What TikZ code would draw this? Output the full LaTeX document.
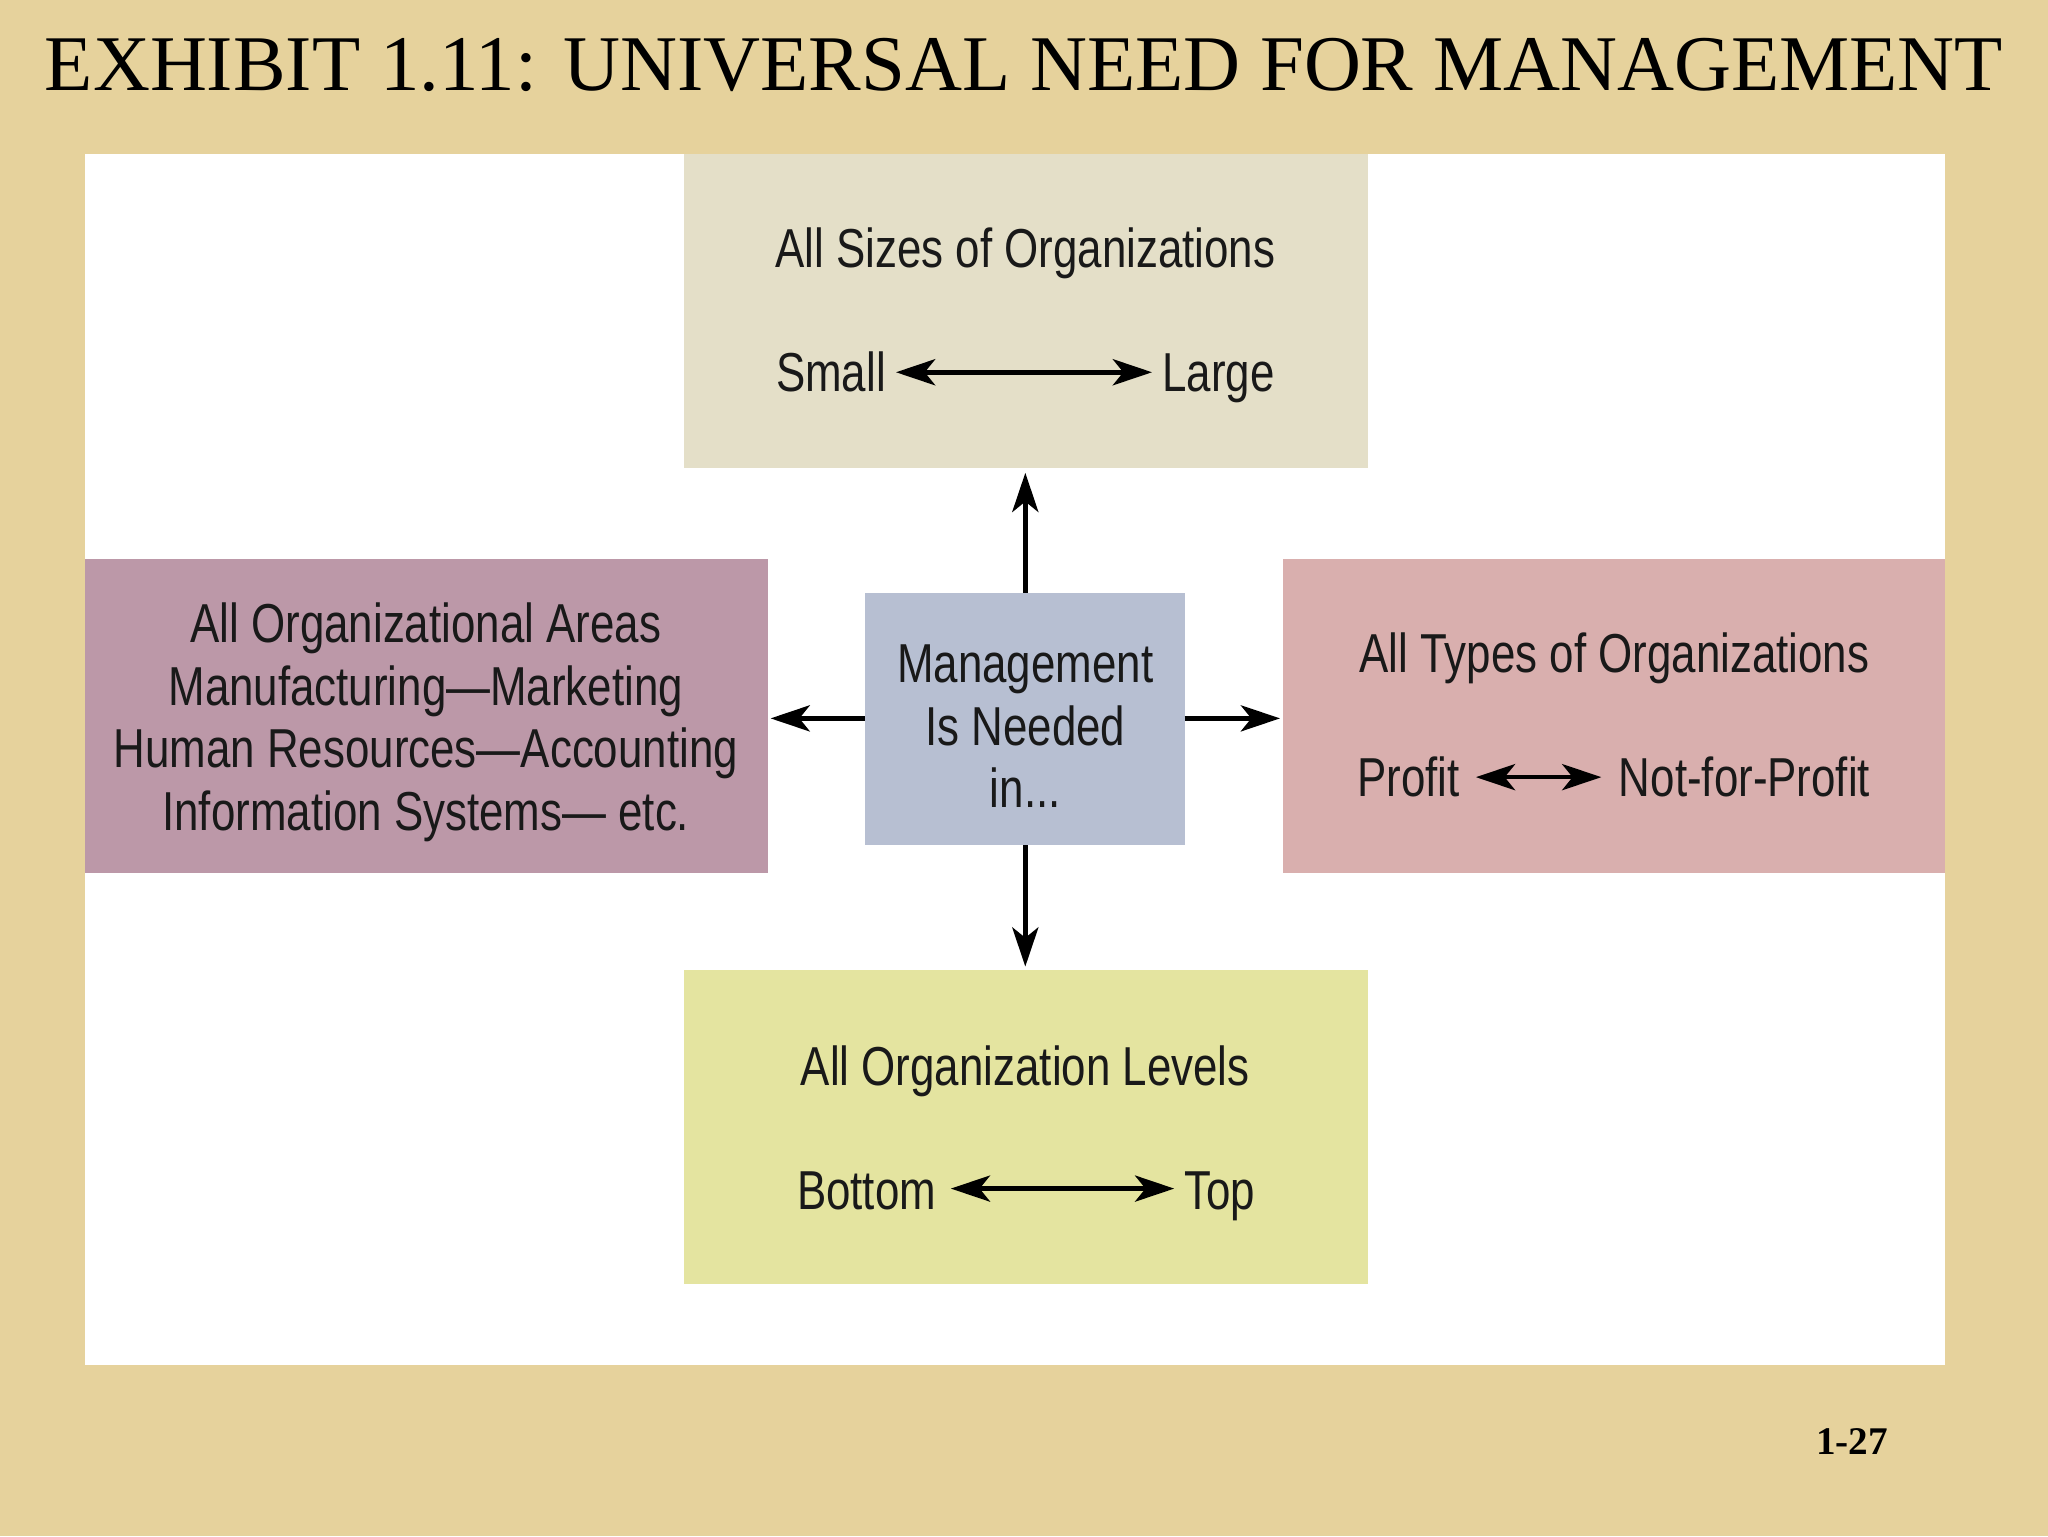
\documentclass[tikz,border=0pt]{standalone}
\usepackage{fontspec}
\setmainfont{Liberation Serif}
\newfontfamily\cond{Liberation Sans}
\usetikzlibrary{arrows.meta}
\definecolor{bgtan}{HTML}{E6D29C}
\definecolor{topc}{HTML}{E4DFC8}
\definecolor{leftc}{HTML}{BC98A8}
\definecolor{midc}{HTML}{B7BFD2}
\definecolor{rightc}{HTML}{D9AFAE}
\definecolor{botc}{HTML}{E4E4A0}
\newcommand{\cz}[1]{\scalebox{0.8}[1]{#1}}
\tikzset{
  txt/.style={font=\cond\fontsize{42}{48}\selectfont, text=black!90, inner sep=0pt},
  arr/.style={-{Stealth[length=30pt,width=20pt,inset=8pt]}, line width=3.5pt},
  darr/.style={{Stealth[length=30pt,width=20pt,inset=8pt]}-{Stealth[length=30pt,width=20pt,inset=8pt]}, line width=3.5pt},
}
\begin{document}
\begin{tikzpicture}[x=1pt,y=-1pt]
\fill[bgtan] (0,0) rectangle (1568,1176);
\useasboundingbox (0,0) rectangle (1568,1176);
\fill[white] (65,118) rectangle (1489,1045);
\node[font=\fontsize{60.4}{70}\selectfont, inner sep=0pt] (title) at (784,50) {EXHIBIT 1.11: UNIVERSAL NEED FOR MANAGEMENT};
\node[font=\bfseries\fontsize{30}{34}\selectfont, inner sep=0pt] (pg) at (1418,1104) {1-27};
% boxes
\fill[topc] (524,118) rectangle (1047,358);
\fill[leftc] (65,428) rectangle (588,668);
\fill[midc] (662,454) rectangle (907,647);
\fill[rightc] (982,428) rectangle (1489,668);
\fill[botc] (524,743) rectangle (1047,983);
\coordinate (mT) at (785,454); \coordinate (mB) at (785,647);
\coordinate (mL) at (662,550); \coordinate (mR) at (907,550);
\coordinate (tT) at (785,362); \coordinate (bT) at (785,740);
\coordinate (lT) at (590,550); \coordinate (rT) at (980,550);
\draw[arr] (mT) -- (tT);
\draw[arr] (mB) -- (bT);
\draw[arr] (mL) -- (lT);
\draw[arr] (mR) -- (rT);
% texts
\node[txt,anchor=base] (t1) at (785,205) {\cz{All Sizes of Organizations}};
\node[txt,anchor=base west] (small) at (594,300) {\cz{Small}};
\node[txt,anchor=base east] (large) at (976,300) {\cz{Large}};
\draw[darr] (686,285) -- (882,285);
\node[txt, align=center] (mid) at (785,556) {\cz{Management}\\\cz{Is Needed}\\\cz{in...}};
\node[txt, align=center] (left) at (326,553) {\cz{All Organizational Areas}\\\cz{Manufacturing\textemdash Marketing}\\\cz{Human Resources\textemdash Accounting}\\\cz{Information Systems\textemdash\ etc.}};
\node[txt,anchor=base] (r1) at (1236,515) {\cz{All Types of Organizations}};
\node[txt,anchor=base west] (profit) at (1039,610) {\cz{Profit}};
\node[txt,anchor=base east] (nfp) at (1432,610) {\cz{Not-for-Profit}};
\draw[darr] (1130,595) -- (1226,595);
\node[txt,anchor=base] (b1) at (785,831) {\cz{All Organization Levels}};
\node[txt,anchor=base west] (bottom) at (610,926) {\cz{Bottom}};
\node[txt,anchor=base east] (top) at (961,926) {\cz{Top}};
\draw[darr] (728,910) -- (899,910);
\end{tikzpicture}
\end{document}
